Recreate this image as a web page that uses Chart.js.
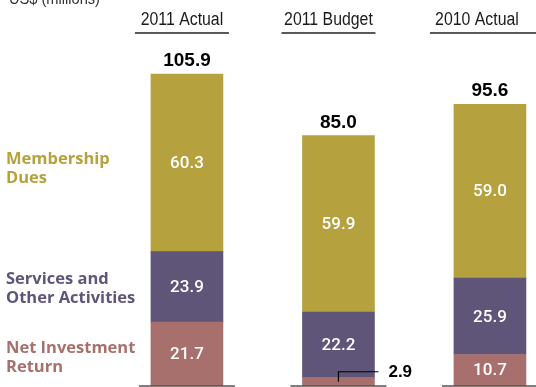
<!DOCTYPE html>
<html>
<head>
<meta charset="utf-8">
<script src="https://cdn.jsdelivr.net/npm/chart.js@4/dist/chart.umd.min.js"></script>
<style>
  html, body { margin: 0; padding: 0; background: #fff; overflow: hidden; }
  #chart { display: block; }
</style>
</head>
<body>
<canvas id="chart" width="536" height="387"></canvas>
<script>
// revenue by source, US$ millions
const columns = ["2011 Actual", "2011 Budget", "2010 Actual"];
const seriesNames = ["Net Investment\nReturn", "Services and\nOther Activities", "Membership\nDues"];
const netInvestment = [21.7, 2.9, 10.7];
const services = [23.9, 22.2, 25.9];
const membership = [60.3, 59.9, 59.0];
const unitsLabel = "US$ (millions)";

const colors = ["#a8706d", "#5f5578", "#b5a23f"];
const series = [netInvestment, services, membership];

const totals = columns.map((c, i) => series.reduce((s, arr) => s + arr[i], 0));

const plain = '"Liberation Sans", Arial, sans-serif';
const humanist = '"Open Sans", Lato, sans-serif';

// header column centres sit a little left of the bars
const headerShift = [-5, -10, -13];
// where the stacked labels sit down the left side (y of first baseline)
const sideLabelY = [353, 284, 164];

// no condensed face installed, so squeeze a regular one horizontally
function narrowText(ctx, text, x, y, squeeze) {
  ctx.save();
  ctx.translate(x, y);
  ctx.scale(squeeze, 1);
  ctx.fillText(text, 0, 0);
  ctx.restore();
}

const annotate = {
  id: "annotate",
  afterDatasetsDraw(chart) {
    const ctx = chart.ctx;
    const xs = chart.scales.x;
    const ys = chart.scales.y;
    const last = columns.length - 1;
    ctx.save();

    // units caption, clipped at the top edge
    ctx.fillStyle = "#333";
    ctx.font = "17px " + plain;
    ctx.textAlign = "left";
    ctx.textBaseline = "alphabetic";
    narrowText(ctx, unitsLabel, 9, 4, 0.86);

    // column headers with rule below (last rule runs to the edge)
    columns.forEach((name, i) => {
      const cx = xs.getPixelForValue(i) + headerShift[i];
      ctx.fillStyle = "#1a1a1a";
      ctx.font = "18px " + plain;
      ctx.textAlign = "center";
      narrowText(ctx, name, cx, 25, 0.88);
      ctx.strokeStyle = "#222";
      ctx.lineWidth = 1.3;
      ctx.beginPath();
      ctx.moveTo(cx - 47, 33);
      ctx.lineTo(i === last ? chart.width : cx + 47, 33);
      ctx.stroke();
    });

    // baseline stubs under each bar
    columns.forEach((name, i) => {
      const cx = xs.getPixelForValue(i);
      const y0 = ys.getPixelForValue(0);
      ctx.strokeStyle = "#555";
      ctx.lineWidth = 1.5;
      ctx.beginPath();
      ctx.moveTo(cx - 48, y0);
      ctx.lineTo(i === last ? chart.width : cx + 48, y0);
      ctx.stroke();
    });

    // segment values
    chart.data.datasets.forEach((ds, d) => {
      const meta = chart.getDatasetMeta(d);
      meta.data.forEach((bar, i) => {
        const v = series[d][i];
        const h = Math.abs(bar.base - bar.y);
        const mid = (bar.y + bar.base) / 2;
        if (h > 20) {
          ctx.fillStyle = "#fff";
          ctx.font = "500 17px Roboto, " + plain;
          ctx.textAlign = "center";
          ctx.textBaseline = "middle";
          ctx.fillText(v.toFixed(1), bar.x, mid + 1);
        } else {
          // thin slice: label off to the side with a leader
          ctx.strokeStyle = "#000";
          ctx.lineWidth = 1.2;
          ctx.beginPath();
          ctx.moveTo(bar.x, mid);
          ctx.lineTo(bar.x, mid - 10);
          ctx.lineTo(bar.x + 40, mid - 10);
          ctx.stroke();
          ctx.fillStyle = "#000";
          ctx.font = "bold 17px " + plain;
          ctx.textAlign = "left";
          ctx.textBaseline = "middle";
          ctx.fillText(v.toFixed(1), bar.x + 50, mid - 9);
        }
      });
    });

    // totals above the stacks
    totals.forEach((t, i) => {
      ctx.fillStyle = "#000";
      ctx.font = "bold 19px " + plain;
      ctx.textAlign = "center";
      ctx.textBaseline = "alphabetic";
      ctx.fillText(t.toFixed(1), xs.getPixelForValue(i), ys.getPixelForValue(t) - 8);
    });

    // series names down the left
    seriesNames.forEach((name, d) => {
      ctx.fillStyle = colors[d];
      ctx.font = "bold 16.5px " + humanist;
      ctx.textAlign = "left";
      ctx.textBaseline = "alphabetic";
      name.split("\n").forEach((line, k) => {
        ctx.fillText(line, 6, sideLabelY[d] + k * 19);
      });
    });

    ctx.restore();
  }
};

new Chart(document.getElementById("chart"), {
  type: "bar",
  data: {
    datasets: series.map((arr, d) => ({
      label: seriesNames[d].replace("\n", " "),
      data: arr.map((v, i) => ({ x: i, y: v })),
      backgroundColor: colors[d],
      borderWidth: 0,
      barThickness: 72
    }))
  },
  options: {
    responsive: false,
    devicePixelRatio: 1,
    animation: false,
    layout: { padding: { top: 0, bottom: 1, left: 0, right: 0 } },
    plugins: {
      legend: { display: false },
      tooltip: { enabled: false }
    },
    scales: {
      x: { type: "linear", stacked: true, display: false, offset: false, min: -1.234, max: 2.304 },
      y: { stacked: true, display: false, min: 0, max: 131.0 }
    }
  },
  plugins: [annotate]
});
</script>
</body>
</html>
